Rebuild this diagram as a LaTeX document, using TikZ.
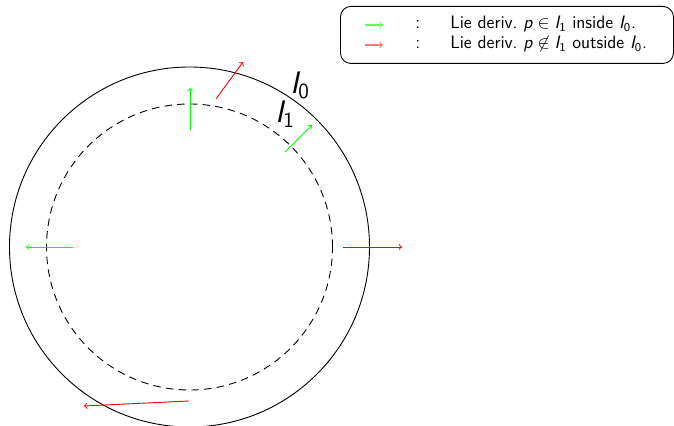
\documentclass[tikz,border=0pt]{standalone}
\usepackage{amsmath}
\DeclareMathAlphabet{\mathsfsl}{TU}{lmss}{m}{sl}
\newcommand{\sI}[1]{\mathsfsl{I}_{\mathsf{#1}}}
\usetikzlibrary{arrows}
\tikzset{
  ring/.style={draw=black, line width=0.6pt},
  innerring/.style={draw=black, line width=0.6pt, dash pattern=on 5pt off 3.5pt},
  inarrow/.style={draw=green, line width=0.6pt, ->},
  outarrow/.style={draw=red, line width=0.6pt, ->},
  keyin/.style={draw=green!65, line width=0.7pt, ->},
  keyout/.style={draw=red!55, line width=0.7pt, ->},
  keytext/.style={font=\sffamily\fontsize{12}{14}\selectfont, anchor=base west, inner sep=0pt},
  setlabel/.style={font=\sffamily\huge, inner sep=0pt}
}
\begin{document}
\begin{tikzpicture}[x=0.6667pt, y=-0.6667pt]
\useasboundingbox (0,0) rectangle (674,426);

% the two level sets
\coordinate (c) at (189.5,247);
\draw[ring] (c) circle[radius=180*0.6667pt];
\draw[innerring] (c) circle[radius=143*0.6667pt];

\node[setlabel] (l0) at (300,85) {$\sI0$};
\node[setlabel] (l1) at (285,114) {$\sI1$};

% Lie derivative vectors at points of I_1
\coordinate (g1a) at (190,130); \coordinate (g1b) at (190,88);
\coordinate (g2a) at (285,152); \coordinate (g2b) at (312,125);
\coordinate (g3a) at (73,247);  \coordinate (g3b) at (26,247);
\draw[inarrow] (g1a) -- (g1b);
\draw[inarrow] (g2a) -- (g2b);
\draw[inarrow] (g3a) -- (g3b);

% Lie derivative vectors at points outside I_0
\coordinate (r1a) at (216,99);  \coordinate (r1b) at (243,62);
\coordinate (r2a) at (343,247); \coordinate (r2b) at (402,247);
\coordinate (r3a) at (189,401); \coordinate (r3b) at (84,406);
\draw[outarrow] (r1a) -- (r1b);
\draw[outarrow] (r2a) -- (r2b);
\draw[outarrow] (r3a) -- (r3b);

% legend
\node[draw=black, line width=0.6pt, rounded corners=7pt, minimum width=333*0.6667pt,
      minimum height=57*0.6667pt, anchor=north west, inner sep=0pt] (key) at (340,6) {};
\coordinate (k1a) at (365,25); \coordinate (k1b) at (383,25);
\coordinate (k2a) at (365,45); \coordinate (k2b) at (383,45);
\draw[keyin] (k1a) -- (k1b);
\draw[keyout] (k2a) -- (k2b);
\node[keytext] (c1) at (415,29) {:};
\node[keytext] (c2) at (415,49) {:};
\node[keytext] (t1) at (450,29) {Lie deriv.\ $\mathsfsl{p}\in\sI1$ inside $\sI0$.};
\node[keytext] (t2) at (450,49) {Lie deriv.\ $\mathsfsl{p}\not\in\sI1$ outside $\sI0$.};
\end{tikzpicture}
\end{document}
